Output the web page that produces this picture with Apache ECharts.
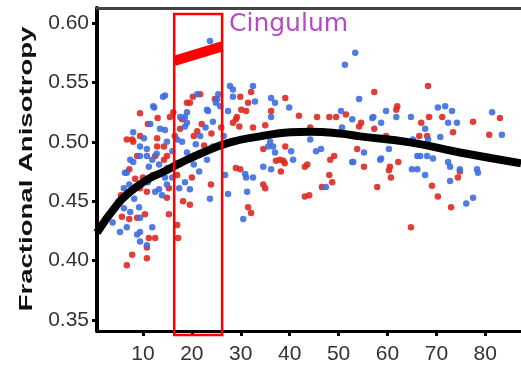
<!DOCTYPE html>
<html>
<head>
<meta charset="utf-8">
<script src="https://cdn.jsdelivr.net/npm/echarts@6/dist/echarts.min.js"></script>
<style>
  html, body { margin: 0; padding: 0; background: #fff; }
  #chart { width: 521px; height: 370px; }
</style>
</head>
<body>
<div id="chart"></div>
<script>
// tick labels
const xTicks = [10, 20, 30, 40, 50, 60, 70, 80]
const yTicks = [0.35, 0.40, 0.45, 0.50, 0.55, 0.60]

// red subjects [age, FA]
const redPoints = [
  [9.4, 0.524], [15.5, 0.521], [7.8, 0.502], [9.4, 0.505], [12.9, 0.503], [14.3, 0.496],
  [19.6, 0.533], [17.6, 0.511], [20.4, 0.505], [21.1, 0.509], [20.2, 0.538], [21.7, 0.540],
  [19.0, 0.533], [24.7, 0.536], [16.2, 0.525], [18.0, 0.519], [8.0, 0.500], [12.9, 0.496],
  [14.9, 0.488], [8.8, 0.488], [6.7, 0.502], [29.9, 0.538], [31.5, 0.533], [29.2, 0.521],
  [32.1, 0.542], [39.1, 0.537], [41.9, 0.522], [30.1, 0.527], [31.1, 0.526], [29.0, 0.519],
  [28.4, 0.516], [29.7, 0.513], [32.5, 0.512], [35.0, 0.514], [36.2, 0.526], [34.6, 0.494],
  [39.1, 0.496], [57.3, 0.542], [62.0, 0.530], [61.8, 0.527], [45.6, 0.521], [48.1, 0.521],
  [49.5, 0.521], [51.5, 0.523], [54.6, 0.516], [54.2, 0.513], [57.3, 0.511], [59.7, 0.505],
  [53.8, 0.494], [49.1, 0.488], [44.2, 0.512], [68.1, 0.505], [48.3, 0.485], [43.6, 0.481],
  [60.5, 0.479], [62.2, 0.483], [38.0, 0.485], [39.0, 0.482], [68.3, 0.547], [68.5, 0.521],
  [71.2, 0.521], [66.9, 0.516], [77.5, 0.517], [83.0, 0.520], [73.4, 0.508], [80.8, 0.506],
  [66.5, 0.505], [12.5, 0.488], [14.3, 0.485], [7.2, 0.477], [8.4, 0.469], [9.4, 0.461],
  [10.8, 0.458], [15.3, 0.461], [14.9, 0.453], [18.2, 0.450], [19.6, 0.447], [15.3, 0.439],
  [5.7, 0.437], [7.2, 0.435], [8.8, 0.436], [10.4, 0.439], [11.2, 0.419], [12.5, 0.419],
  [7.8, 0.405], [6.7, 0.396], [10.8, 0.402], [10.8, 0.411], [17.0, 0.430], [17.2, 0.419],
  [23.9, 0.464], [34.6, 0.464], [35.0, 0.461], [31.5, 0.445], [32.1, 0.440], [37.2, 0.484],
  [38.7, 0.484], [38.2, 0.475], [43.1, 0.479], [43.1, 0.454], [29.0, 0.478], [29.9, 0.477],
  [55.2, 0.479], [60.3, 0.476], [60.7, 0.470], [57.9, 0.462], [48.1, 0.472], [48.7, 0.466],
  [46.6, 0.462], [44.0, 0.455], [64.8, 0.428], [74.8, 0.475], [74.4, 0.470], [69.1, 0.463],
  [70.3, 0.454], [73.0, 0.445],
  [11.0, 0.515], [13.0, 0.520], [16.5, 0.505], [15.0, 0.478], [17.0, 0.472], [20.0, 0.470],
  [22.0, 0.515], [24.0, 0.507], [26.0, 0.512], [10.0, 0.470], [12.0, 0.472], [22.5, 0.497],
  [5.5, 0.455], [4.5, 0.445]
]

// blue subjects [age, FA]
const bluePoints = [
  [14.5, 0.539], [12.3, 0.529], [11.5, 0.515], [13.5, 0.511], [14.5, 0.510], [9.4, 0.496],
  [10.8, 0.494], [18.6, 0.521], [19.0, 0.516], [21.1, 0.540], [17.0, 0.502], [23.7, 0.585],
  [14.1, 0.538], [12.1, 0.530], [17.6, 0.521], [19.0, 0.525], [18.6, 0.513], [23.1, 0.527],
  [25.2, 0.536], [25.8, 0.530], [21.7, 0.505], [24.3, 0.496], [28.4, 0.538], [32.5, 0.547],
  [23.1, 0.485], [18.0, 0.500], [19.0, 0.491], [14.9, 0.500], [8.0, 0.508], [6.7, 0.474],
  [8.0, 0.483], [10.8, 0.488], [11.9, 0.485], [6.3, 0.474],
  [27.8, 0.547], [28.4, 0.544], [32.9, 0.534], [36.2, 0.537], [37.0, 0.533], [39.9, 0.529],
  [25.4, 0.540], [24.9, 0.533], [23.3, 0.526], [24.3, 0.517], [27.4, 0.526], [36.2, 0.521],
  [37.0, 0.491], [35.6, 0.496], [40.3, 0.492], [36.0, 0.500], [36.6, 0.496],
  [53.4, 0.575], [51.3, 0.565], [54.2, 0.536], [59.7, 0.526], [61.8, 0.521], [64.8, 0.521],
  [50.5, 0.526], [52.8, 0.519], [56.9, 0.520], [58.7, 0.516], [50.7, 0.512], [46.4, 0.494],
  [45.4, 0.492], [55.2, 0.491], [60.3, 0.494], [44.2, 0.502], [57.1, 0.521], [65.2, 0.502],
  [66.7, 0.488], [68.1, 0.488], [53.0, 0.483], [58.5, 0.485],
  [70.3, 0.529], [71.8, 0.530], [73.2, 0.526], [72.4, 0.516], [74.2, 0.516], [81.4, 0.525],
  [83.4, 0.506], [67.7, 0.511], [70.8, 0.504], [68.3, 0.502],
  [7.4, 0.485], [9.4, 0.488], [11.2, 0.479], [13.3, 0.481], [6.1, 0.461], [7.2, 0.464],
  [13.3, 0.460], [14.5, 0.470], [14.9, 0.464], [12.5, 0.458], [13.9, 0.455], [17.4, 0.461],
  [19.6, 0.460], [18.6, 0.466], [20.4, 0.481], [19.4, 0.485], [6.1, 0.444], [7.4, 0.441],
  [9.2, 0.445], [5.3, 0.424], [9.4, 0.424], [11.9, 0.428], [8.8, 0.422], [10.8, 0.413],
  [6.7, 0.428], [9.4, 0.436], [9.4, 0.416],
  [23.7, 0.452], [26.8, 0.472], [27.4, 0.456], [31.1, 0.470], [32.5, 0.470], [30.9, 0.473],
  [31.3, 0.458], [30.5, 0.435], [34.6, 0.479], [36.2, 0.477], [40.7, 0.485],
  [52.8, 0.483], [58.7, 0.486], [47.4, 0.462], [65.0, 0.477],
  [66.1, 0.488], [69.3, 0.486], [72.4, 0.483], [72.8, 0.479], [74.8, 0.477], [78.3, 0.477],
  [78.5, 0.474], [66.1, 0.477], [67.7, 0.472], [72.8, 0.467], [76.1, 0.448], [77.5, 0.453],
  [10.2, 0.503], [12.8, 0.490], [16.0, 0.492], [16.8, 0.482], [20.8, 0.498], [22.8, 0.512],
  [26.5, 0.505], [5.0, 0.450], [8.2, 0.452], [11.0, 0.466], [16.0, 0.470], [21.5, 0.475],
  [3.8, 0.432]
]

// fitted trajectory
const fitCurve = [
  [0.6, 0.4235], [4.7, 0.447], [7.4, 0.458], [10.8, 0.468], [14.3, 0.475], [17.6, 0.482],
  [21.7, 0.490], [27.8, 0.4995], [33.9, 0.5046], [40.1, 0.508], [44.2, 0.5085], [50.3, 0.507],
  [54.4, 0.5046], [64.6, 0.4995], [74.8, 0.491], [87.3, 0.482]
]

// highlighted age window and its slope
const windowBox = [[16.4, 0.6076, 26.2, 0.3374]]
const windowSlope = [[16.4, 0.5682], [26.2, 0.5804]]

const chart = echarts.init(document.getElementById('chart'), null, { renderer: 'canvas' })

const labelFont = { fontFamily: 'Liberation Sans', fontSize: 21, color: '#333' }

chart.setOption({
  animation: false,
  backgroundColor: '#fff',
  title: {
    text: 'Cingulum',
    left: 224,
    top: 7,
    textStyle: { color: '#b548c6', fontSize: 25, fontWeight: 'normal', fontFamily: 'DejaVu Sans' }
  },
  graphic: [{
    type: 'text',
    x: 27,
    y: 169,
    rotation: Math.PI / 2,
    scaleX: 1.45,
    style: {
      text: 'Fractional Anisotropy',
      font: 'bold 19px "Liberation Sans"',
      fill: '#111',
      align: 'center',
      verticalAlign: 'middle'
    }
  }],
  grid: { left: 97, right: 0, top: 8, bottom: 39 },
  xAxis: [{
    type: 'value',
    min: 0.6,
    max: 87.3,
    axisLine: { lineStyle: { color: '#000', width: 3 } },
    axisTick: { customValues: xTicks, length: 5, lineStyle: { color: '#000', width: 3 } },
    axisLabel: { customValues: xTicks, margin: 13, ...labelFont },
    splitLine: { show: false }
  }, {
    type: 'value',
    position: 'top',
    min: 0.6,
    max: 87.3,
    axisLine: { lineStyle: { color: '#444', width: 3 } },
    axisTick: { show: false },
    axisLabel: { show: false },
    splitLine: { show: false }
  }],
  yAxis: {
    type: 'value',
    min: 0.3407,
    max: 0.6127,
    axisLine: { show: true, lineStyle: { color: '#000', width: 4 } },
    axisTick: { show: true, customValues: yTicks, length: 5, lineStyle: { color: '#000', width: 3 } },
    axisLabel: {
      customValues: yTicks,
      margin: 8,
      formatter: v => v.toFixed(2),
      ...labelFont
    },
    splitLine: { show: false }
  },
  series: [
    {
      type: 'scatter',
      data: redPoints,
      symbolSize: 6.5,
      itemStyle: { color: '#dd2a22', opacity: 0.9 },
      z: 2
    },
    {
      type: 'scatter',
      data: bluePoints,
      symbolSize: 6.5,
      itemStyle: { color: '#3e6ee0', opacity: 0.9 },
      z: 2
    },
    {
      type: 'line',
      data: fitCurve,
      smooth: true,
      symbol: 'none',
      lineStyle: { color: '#000', width: 8 },
      z: 3
    },
    {
      type: 'line',
      data: windowSlope,
      symbol: 'none',
      lineStyle: { color: '#ff0000', width: 10, cap: 'butt' },
      z: 4
    },
    {
      type: 'custom',
      data: windowBox,
      clip: false,
      z: 5,
      renderItem: (params, api) => {
        const p1 = api.coord([api.value(0), api.value(1)])
        const p2 = api.coord([api.value(2), api.value(3)])
        return {
          type: 'rect',
          shape: { x: p1[0], y: p1[1], width: p2[0] - p1[0], height: p2[1] - p1[1] },
          style: { fill: 'none', stroke: '#ff0000', lineWidth: 2.5 }
        }
      }
    }
  ]
})
</script>
</body>
</html>
